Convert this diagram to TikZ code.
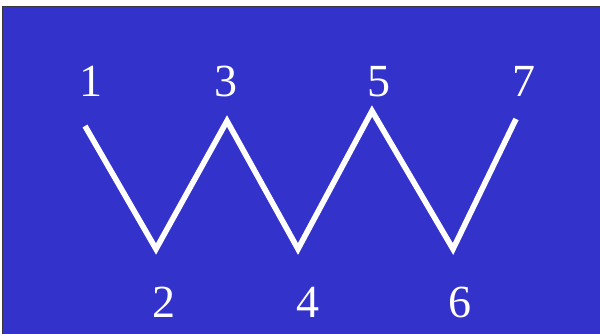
\documentclass[tikz,border=0pt]{standalone}
\usepackage{fontspec}
\setmainfont{Liberation Serif}
\usepackage{tikz}
\usetikzlibrary{positioning}
\definecolor{blue1}{RGB}{51, 51, 204}
\definecolor{edge1}{RGB}{55, 55, 60}

\begin{document}
\begin{tikzpicture}[x=1pt, y=1pt,
  num/.style={text=white, font=\fontsize{46}{50}\selectfont, anchor=base, inner sep=0pt},
  zig/.style={draw=white, line width=5.6pt}]
  \useasboundingbox (0,0) rectangle (600,334);
  \fill[white] (0,0) rectangle (600,334);
  \fill[blue1] (3,0) rectangle (600,326.5);
  \draw[edge1, line width=1.5pt] (2.5,0) -- (2.5,327.3) -- (600,327.3);

  % corners of the zigzag
  \coordinate (pt1) at (85,208);
  \coordinate (pt2) at (156,85);
  \coordinate (pt3) at (227,213);
  \coordinate (pt4) at (298,85);
  \coordinate (pt5) at (372,223);
  \coordinate (pt6) at (453,85);
  \coordinate (pt7) at (516,215);
  \draw[zig] (pt1) -- (pt2) -- (pt3) -- (pt4) -- (pt5) -- (pt6) -- (pt7);

  % numbers
  \node[num] (lab1) at (91,237) {1};
  \node[num] (lab2) at (164,16) {2};
  \node[num] (lab3) at (226,237) {3};
  \node[num] (lab4) at (308,16) {4};
  \node[num] (lab5) at (379,237) {5};
  \node[num] (lab6) at (460,16) {6};
  \node[num] (lab7) at (524,237) {7};
\end{tikzpicture}
\end{document}
